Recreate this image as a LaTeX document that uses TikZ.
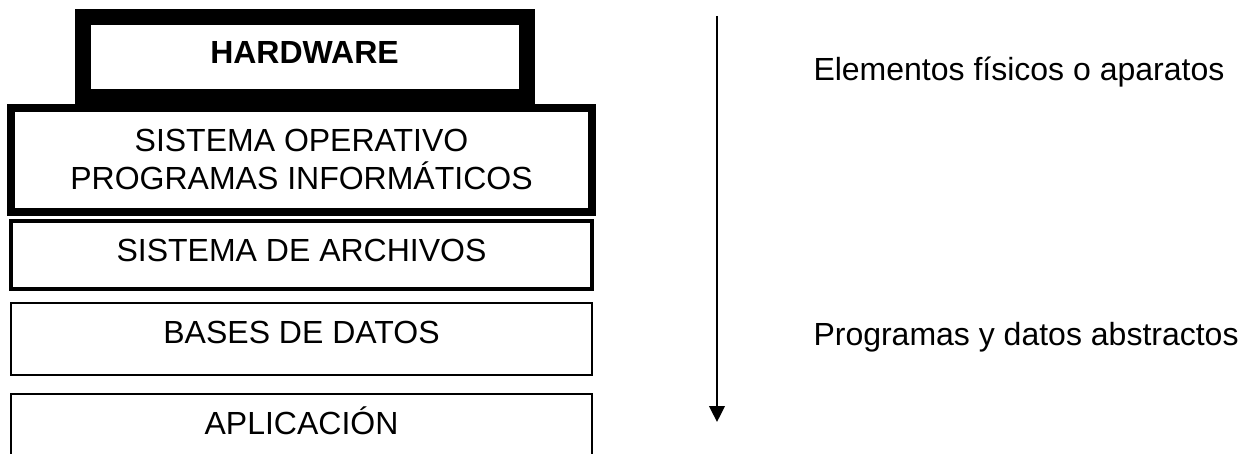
\documentclass[tikz,border=0pt]{standalone}
\usepackage{fontspec}
\setmainfont{Liberation Sans}
\usetikzlibrary{arrows.meta}
\tikzset{
  x=1pt,y=-1pt,
  layerbox/.style={draw=black,fill=white,rectangle,inner sep=0pt,outer sep=0pt,line join=miter},
  lbl/.style={inner sep=0pt,outer sep=0pt,font=\fontsize{32}{38}\selectfont,text=black,align=center},
  note/.style={inner sep=0pt,outer sep=0pt,font=\fontsize{32}{38}\selectfont,text=black,anchor=base west},
}
\begin{document}
\begin{tikzpicture}
\useasboundingbox (0,0) rectangle (1245,454);
% boxes
\node[layerbox,line width=16pt,minimum width=444pt,minimum height=80pt] (hw) at (304.5,57) {};
\node[layerbox,line width=8pt,minimum width=581pt,minimum height=103.5pt] (so) at (301.5,160.25) {};
\node[layerbox,line width=4pt,minimum width=580.5pt,minimum height=68pt] (fs) at (301.25,255) {};
\node[layerbox,line width=2pt,minimum width=581pt,minimum height=72pt] (db) at (301.5,339) {};
\draw[line width=2pt,line join=miter] (11,454) |- (592,394) -- (592,454);
% texts
\node[lbl,anchor=base,font=\fontsize{32}{38}\selectfont\bfseries] (hwt) at (304.5,64) {HARDWARE};
\node[lbl,anchor=base] (so1) at (301.5,152) {SISTEMA OPERATIVO};
\node[lbl,anchor=base] (so2) at (301.5,190) {PROGRAMAS INFORMÁTICOS};
\node[lbl,anchor=base] (fst) at (301.5,262) {SISTEMA DE ARCHIVOS};
\node[lbl,anchor=base] (dbt) at (301.5,343) {BASES DE DATOS};
\node[lbl,anchor=base] (apt) at (301.5,434) {APLICACIÓN};
\node[note] (n1) at (813.5,81) {Elementos físicos o aparatos};
\node[note] (n2) at (813.5,345) {Programas y datos abstractos};
% arrow
\coordinate (a0) at (717,16);
\coordinate (a1) at (717,422);
\draw[line width=2pt,-{Triangle[length=16pt,width=15.6pt,sep=0pt]}] (a0) -- (a1);
\end{tikzpicture}
\end{document}
